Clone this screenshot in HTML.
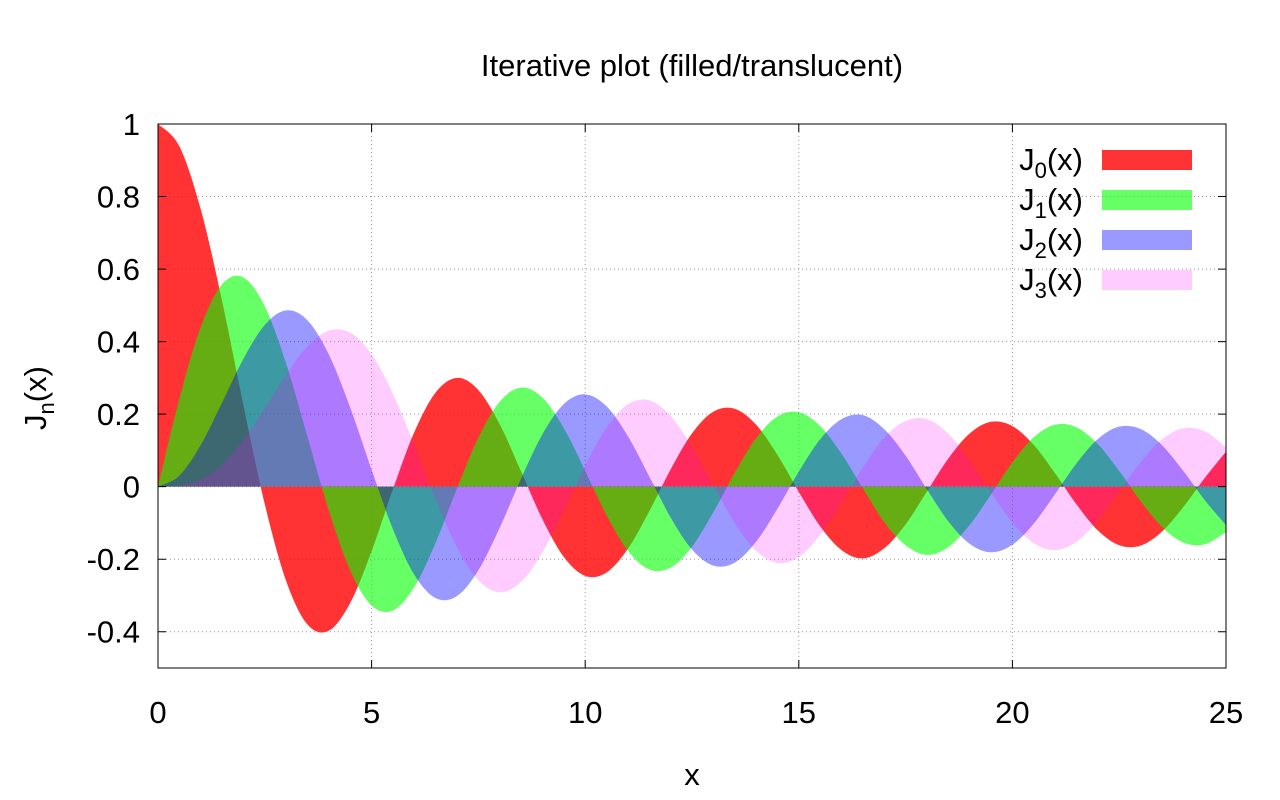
<!DOCTYPE html>
<html><head><meta charset="utf-8"><style>
html,body{margin:0;padding:0;background:#fff;width:1280px;height:800px;overflow:hidden}
svg{display:block;font-family:"Liberation Sans",Arial,sans-serif}
</style></head><body>
<svg id="chart" width="1280" height="800" viewBox="0 0 1280 800" xmlns="http://www.w3.org/2000/svg">
<text x="692" y="76" font-size="31" text-anchor="middle">Iterative plot (filled/translucent)</text>
<g id="grid"></g>
<g id="series"></g>
<g id="axes"></g>
<text x="692" y="785" font-size="31" text-anchor="middle">x</text>
<text transform="translate(46,398) rotate(-90)" font-size="31" text-anchor="middle">J<tspan font-size="22" dy="8">n</tspan><tspan dy="-8">(x)</tspan></text>
<g id="legend"></g>
</svg>
<script>
const xs = [0,0.5,1,1.5,2,2.5,3,3.5,4,4.5,5,5.5,6,6.5,7,7.5,8,8.5,9,9.5,10,10.5,11,11.5,12,12.5,13,13.5,14,14.5,15,15.5,16,16.5,17,17.5,18,18.5,19,19.5,20,20.5,21,21.5,22,22.5,23,23.5,24,24.5,25];
const j0 = [1,0.9385,0.7652,0.5118,0.2239,-0.0484,-0.2601,-0.3801,-0.3971,-0.3205,-0.1776,-0.0068,0.1506,0.2601,0.3001,0.2663,0.1717,0.0419,-0.0903,-0.1939,-0.2459,-0.2366,-0.1712,-0.0677,0.0477,0.1469,0.2069,0.2150,0.1711,0.0875,-0.0142,-0.1092,-0.1749,-0.1978,-0.1699,-0.1040,-0.0134,0.0777,0.1466,0.1789,0.1670,0.1151,0.0366,-0.0489,-0.1206,-0.1616,-0.1625,-0.1240,-0.0562,0.0237,0.0963];
const j1 = [0,0.2423,0.4401,0.5579,0.5767,0.4971,0.3391,0.1374,-0.0660,-0.2311,-0.3276,-0.3414,-0.2767,-0.1538,-0.0047,0.1352,0.2346,0.2731,0.2453,0.1613,0.0435,-0.0789,-0.1768,-0.2284,-0.2234,-0.1655,-0.0703,0.0380,0.1334,0.1934,0.2051,0.1672,0.0904,-0.0047,-0.0977,-0.1614,-0.1880,-0.1666,-0.1057,-0.0209,0.0668,0.1362,0.1711,0.1638,0.1172,0.0432,-0.0395,-0.1109,-0.1540,-0.1590,-0.1253];
const j2 = [0,0.0306,0.1149,0.2321,0.3528,0.4461,0.4861,0.4586,0.3641,0.2178,0.0466,-0.1173,-0.2429,-0.3074,-0.3014,-0.2303,-0.1130,0.0223,0.1448,0.2279,0.2546,0.2216,0.1390,0.0280,-0.0849,-0.1734,-0.2177,-0.2094,-0.1520,-0.0608,0.0415,0.1308,0.1862,0.1972,0.1584,0.0856,-0.0075,-0.0957,-0.1577,-0.1810,-0.1603,-0.1018,-0.0203,0.0641,0.1313,0.1654,0.1591,0.1146,0.0434,-0.0367,-0.1063];
const j3 = [0,0.0026,0.0196,0.0610,0.1289,0.2166,0.3091,0.3868,0.4302,0.4247,0.3648,0.2561,0.1148,-0.0354,-0.1675,-0.2580,-0.2911,-0.2626,-0.1809,-0.0653,0.0583,0.1633,0.2273,0.2381,0.1951,0.1100,0.0033,-0.1000,-0.1768,-0.2102,-0.1940,-0.1334,-0.0438,0.0525,0.1350,0.1810,0.1863,0.1459,0.0725,-0.0162,-0.0989,-0.1561,-0.1750,-0.1519,-0.0933,-0.0138,0.0672,0.1304,0.1612,0.1530,0.1083];
const xTicks = [0,5,10,15,20,25];
const yTicks = [-0.4,-0.2,0,0.2,0.4,0.6,0.8,1];
const yTickLabels = ["-0.4","-0.2","0","0.2","0.4","0.6","0.8","1"];
const seriesNames = ["J0","J1","J2","J3"];
const seriesSubs = ["0","1","2","3"];
const seriesColors = ["rgba(255,0,0,0.8)","rgba(0,255,0,0.6)","rgba(0,0,255,0.4)","rgba(255,0,255,0.2)"];
const allSeries = [j0,j1,j2,j3];

const L=158,R=1226,T=124,B=668,XMIN=0,XMAX=25,YMIN=-0.5,YMAX=1;
const sx = v => L + (v-XMIN)/(XMAX-XMIN)*(R-L);
const sy = v => B - (v-YMIN)/(YMAX-YMIN)*(B-T);
const NS="http://www.w3.org/2000/svg";
function mk(tag, attrs, parent){const e=document.createElementNS(NS,tag);for(const k in attrs)e.setAttribute(k,attrs[k]);parent.appendChild(e);return e;}
const grid=document.getElementById('grid'), axes=document.getElementById('axes'), series=document.getElementById('series'), legend=document.getElementById('legend');

xTicks.forEach((t,i)=>{
  const x=sx(t);
  if(t>XMIN&&t<XMAX){const g=mk('line',{x1:x,x2:x,y1:T,y2:B,stroke:'#999','stroke-width':1,'stroke-dasharray':'1,3'},grid);
  
  }
  const tk=mk('path',{d:`M${x},${B}v-8M${x},${T}v8`,stroke:'#000','stroke-width':1},axes);
  
  
  const lb=mk('text',{x:x,y:B+55,'font-size':31,'text-anchor':'middle'},axes);
  lb.textContent=String(t);
  
  
});
yTicks.forEach((t,i)=>{
  const y=sy(t);
  if(t<YMAX){const g=mk('line',{x1:L,x2:R,y1:y,y2:y,stroke:'#999','stroke-width':1,'stroke-dasharray':'1,3'},grid);
  
  }
  const tk=mk('path',{d:`M${L},${y}h8M${R},${y}h-8`,stroke:'#000','stroke-width':1},axes);
  
  
  const lb=mk('text',{x:140,y:y+11,'font-size':31,'text-anchor':'end'},axes);
  lb.textContent=yTickLabels[i];
  
  
});
const frame=mk('rect',{x:L,y:T,width:R-L,height:B-T,fill:'none',stroke:'#000','stroke-width':1},axes);



function curvePath(ys){
  const p=xs.map((x,i)=>[sx(x),sy(ys[i])]);
  let d=`M${sx(xs[0])},${sy(0)}L${p[0][0]},${p[0][1]}`;
  for(let i=0;i<p.length-1;i++){
    const p0=p[Math.max(0,i-1)],p1=p[i],p2=p[i+1],p3=p[Math.min(p.length-1,i+2)];
    const c1=[p1[0]+(p2[0]-p0[0])/6,p1[1]+(p2[1]-p0[1])/6];
    const c2=[p2[0]-(p3[0]-p1[0])/6,p2[1]-(p3[1]-p1[1])/6];
    d+=`C${c1[0]},${c1[1]} ${c2[0]},${c2[1]} ${p2[0]},${p2[1]}`;
  }
  d+=`L${sx(xs[xs.length-1])},${sy(0)}Z`;
  return d;
}
allSeries.forEach((ys,k)=>{
  const a=mk('path',{d:curvePath(ys),fill:seriesColors[k],stroke:'none'},series);
  
  
  const ly=160+k*40;
  const t=mk('text',{x:1083,y:ly+10,'font-size':31,'text-anchor':'end'},legend);
  t.innerHTML='J<tspan font-size="22" dy="8">'+seriesSubs[k]+'</tspan><tspan dy="-8">(x)</tspan>';
  
  
  const s=mk('rect',{x:1102,y:ly-10,width:90,height:20,fill:seriesColors[k]},legend);
  
  
});
</script>
</body></html>
